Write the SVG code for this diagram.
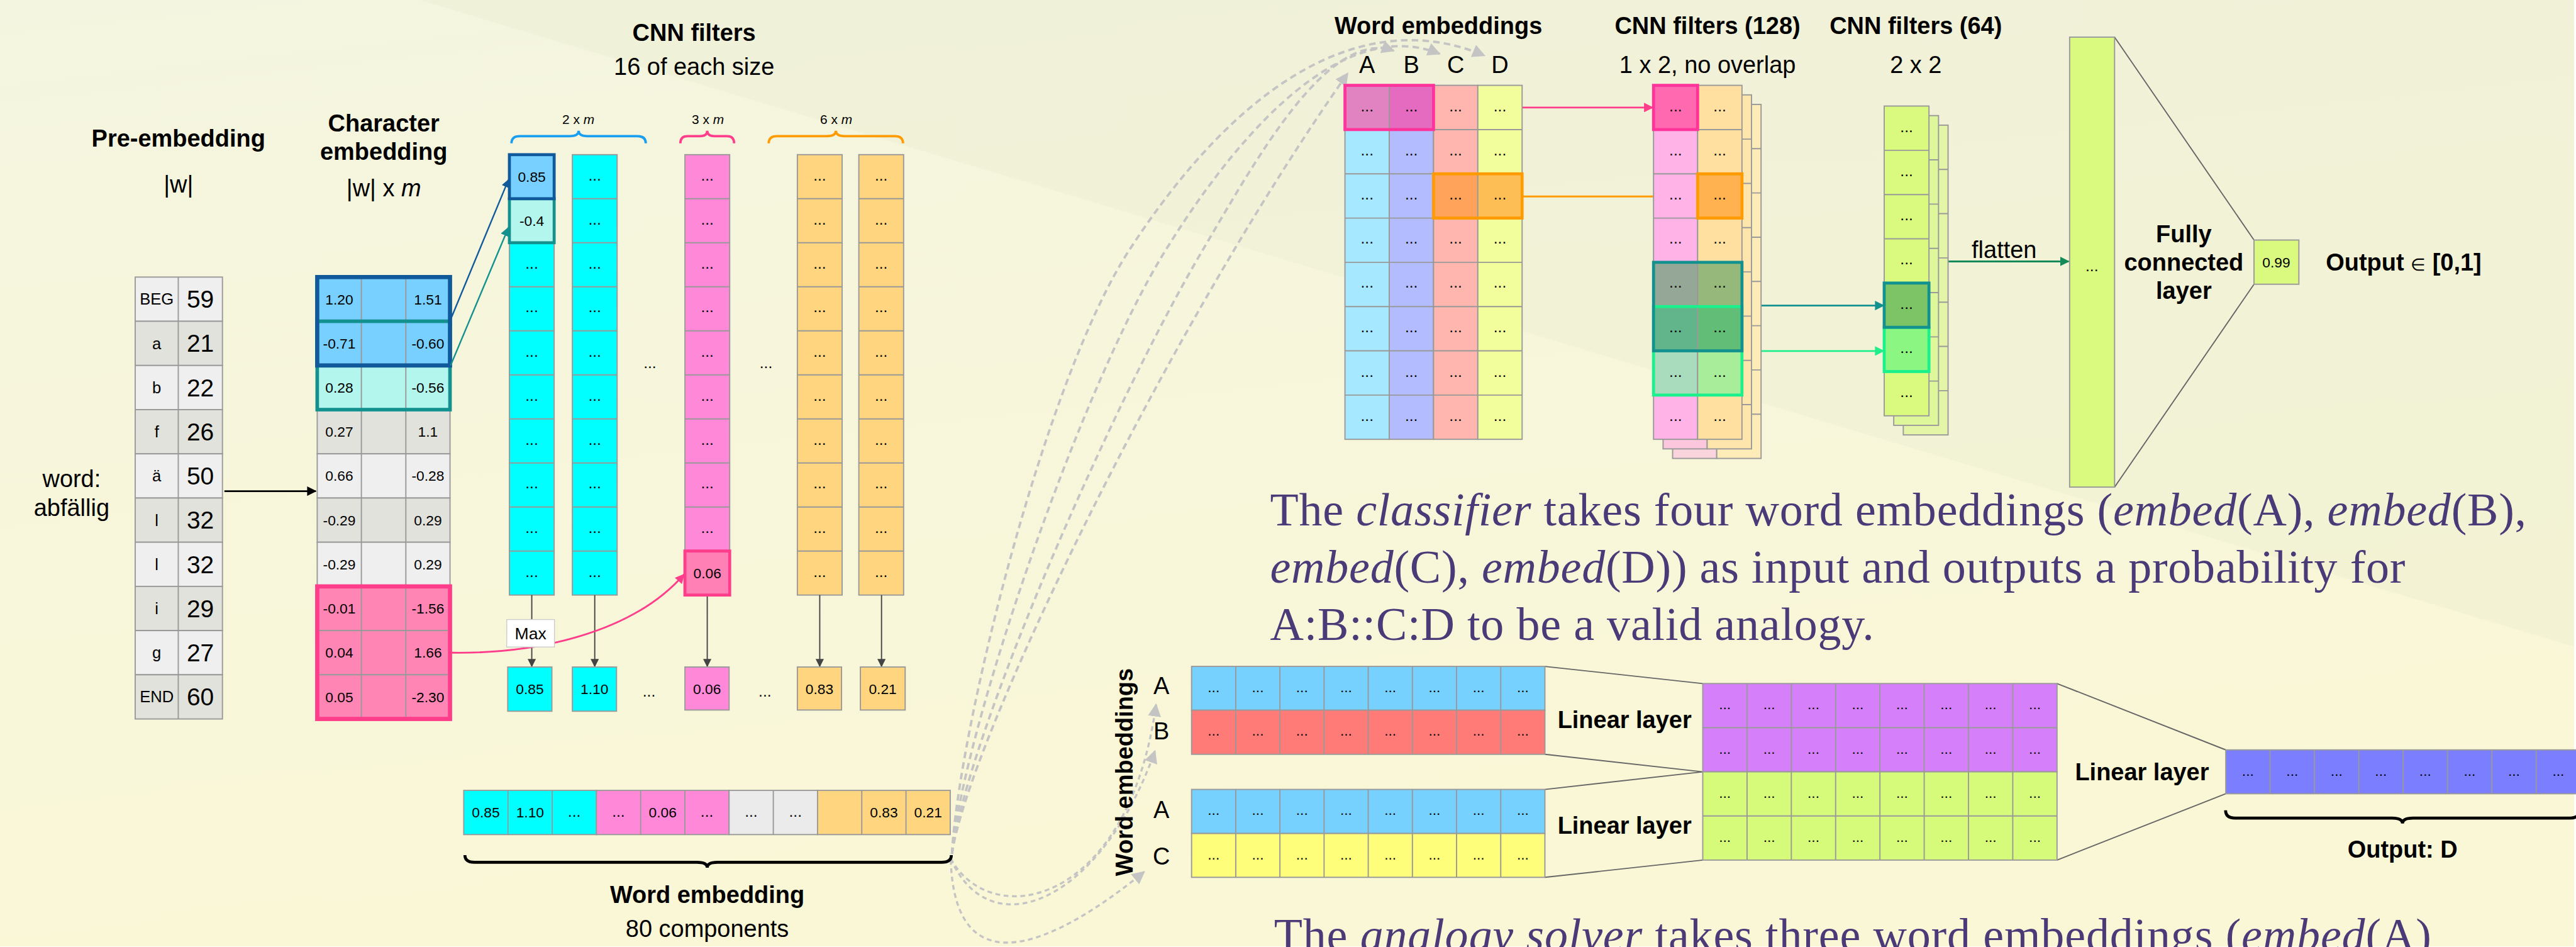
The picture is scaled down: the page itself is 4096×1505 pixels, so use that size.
<svg xmlns="http://www.w3.org/2000/svg" width="4096" height="1505" viewBox="0 0 4096 1505">
<defs>
<style>
text{font-family:"Liberation Sans",Arial,Helvetica,sans-serif;fill:#000}
.b{font-weight:bold}
.m{text-anchor:middle}
.h{font-size:40px}
.v{font-size:24px;text-anchor:middle}
.d{font-size:26px;text-anchor:middle}
.g{stroke:#999;stroke-width:2}
.ln{fill:none;stroke:#999;stroke-width:2}
.tr{fill:none;stroke:#666;stroke-width:2}
.serif{font-family:"Liberation Serif","Times New Roman",serif;font-size:78px;fill:#4a3b78}
.it{font-style:italic}
.dash{fill:none;stroke:#c4c4c4;stroke-width:4;stroke-dasharray:11 7}
.dash2{fill:none;stroke:#c4c4c4;stroke-width:3.5;stroke-dasharray:8 6}
</style>
<linearGradient id="bg" x1="0" y1="0" x2="0.3" y2="1">
<stop offset="0" stop-color="#f4f5e0"/><stop offset="1" stop-color="#faf7d6"/>
</linearGradient>
<marker id="aBlack" viewBox="0 0 10 10" refX="9" refY="5" markerWidth="16" markerHeight="16" markerUnits="userSpaceOnUse" orient="auto"><path d="M0,0L10,5L0,10z" fill="#000"/></marker>
<marker id="aGray" viewBox="0 0 10 10" refX="9" refY="5" markerWidth="14" markerHeight="14" markerUnits="userSpaceOnUse" orient="auto"><path d="M0,0L10,5L0,10z" fill="#444"/></marker>
<marker id="aBlue" viewBox="0 0 10 10" refX="9" refY="5" markerWidth="14" markerHeight="14" markerUnits="userSpaceOnUse" orient="auto"><path d="M0,0L10,5L0,10z" fill="#10599a"/></marker>
<marker id="aTeal" viewBox="0 0 10 10" refX="9" refY="5" markerWidth="16" markerHeight="16" markerUnits="userSpaceOnUse" orient="auto"><path d="M0,0L10,5L0,10z" fill="#12918f"/></marker>
<marker id="aPink" viewBox="0 0 10 10" refX="9" refY="5" markerWidth="16" markerHeight="16" markerUnits="userSpaceOnUse" orient="auto"><path d="M0,0L10,5L0,10z" fill="#ff3d8b"/></marker>
<marker id="aOrange" viewBox="0 0 10 10" refX="9" refY="5" markerWidth="16" markerHeight="16" markerUnits="userSpaceOnUse" orient="auto"><path d="M0,0L10,5L0,10z" fill="#ff9a00"/></marker>
<marker id="aGreen" viewBox="0 0 10 10" refX="9" refY="5" markerWidth="16" markerHeight="16" markerUnits="userSpaceOnUse" orient="auto"><path d="M0,0L10,5L0,10z" fill="#1fee8a"/></marker>
<marker id="aDGreen" viewBox="0 0 10 10" refX="9" refY="5" markerWidth="16" markerHeight="16" markerUnits="userSpaceOnUse" orient="auto"><path d="M0,0L10,5L0,10z" fill="#148a5a"/></marker>
<marker id="aDash" viewBox="0 0 10 10" refX="9" refY="5" markerWidth="22" markerHeight="22" markerUnits="userSpaceOnUse" orient="auto"><path d="M0,0L10,5L0,10z" fill="#c4c4c4"/></marker>
</defs>
<g transform="scale(0.949)">
<rect x="0" y="0" width="4313" height="1585" fill="url(#bg)"/>
<polygon points="703,0 4313,0 4313,1083" fill="#e9ebcf" opacity="0.35"/>

<g id="word-input">
<text class="h m" x="120" y="816">word:</text>
<text class="h m" x="120" y="864">abfällig</text>
</g>

<g id="pre-embedding">
<text class="b h m" x="299" y="246">Pre-embedding</text>
<text class="h m" x="299" y="322">|w|</text>
<rect x="226.5" y="464" width="146.2" height="74" fill="#efefef" class="g"/>
<rect x="226.5" y="538" width="146.2" height="74" fill="#e2e2dc" class="g"/>
<rect x="226.5" y="612" width="146.2" height="74" fill="#efefef" class="g"/>
<rect x="226.5" y="686" width="146.2" height="74" fill="#e2e2dc" class="g"/>
<rect x="226.5" y="760" width="146.2" height="74" fill="#efefef" class="g"/>
<rect x="226.5" y="834" width="146.2" height="74" fill="#e2e2dc" class="g"/>
<rect x="226.5" y="908" width="146.2" height="74" fill="#efefef" class="g"/>
<rect x="226.5" y="982" width="146.2" height="74" fill="#e2e2dc" class="g"/>
<rect x="226.5" y="1056" width="146.2" height="74" fill="#efefef" class="g"/>
<rect x="226.5" y="1130" width="146.2" height="74" fill="#e2e2dc" class="g"/>
<path class="ln" d="M298.7,464V1204"/>
<text class="m" font-size="27"><tspan x="262.6" y="510.5">BEG</tspan><tspan x="262.6" y="584.5">a</tspan><tspan x="262.6" y="658.5">b</tspan><tspan x="262.6" y="732.5">f</tspan><tspan x="262.6" y="806.5">ä</tspan><tspan x="262.6" y="880.5">l</tspan><tspan x="262.6" y="954.5">l</tspan><tspan x="262.6" y="1028.5">i</tspan><tspan x="262.6" y="1102.5">g</tspan><tspan x="262.6" y="1176.5">END</tspan></text>
<text class="m" font-size="41"><tspan x="335.7" y="515.5">59</tspan><tspan x="335.7" y="589.5">21</tspan><tspan x="335.7" y="663.5">22</tspan><tspan x="335.7" y="737.5">26</tspan><tspan x="335.7" y="811.5">50</tspan><tspan x="335.7" y="885.5">32</tspan><tspan x="335.7" y="959.5">32</tspan><tspan x="335.7" y="1033.5">29</tspan><tspan x="335.7" y="1107.5">27</tspan><tspan x="335.7" y="1181.5">60</tspan></text>
</g>

<g id="char-embedding">
<text class="b h m" x="643" y="220">Character</text>
<text class="b h m" x="643" y="268">embedding</text>
<text class="h m" x="643" y="329">|w| x <tspan class="it">m</tspan></text>
<rect x="531.5" y="464" width="222.5" height="74" fill="#77d0ff" class="g"/>
<rect x="531.5" y="538" width="222.5" height="74" fill="#77d0ff" class="g"/>
<rect x="531.5" y="612" width="222.5" height="74" fill="#b3f6ee" class="g"/>
<rect x="531.5" y="686" width="222.5" height="74" fill="#e2e2dc" class="g"/>
<rect x="531.5" y="760" width="222.5" height="74" fill="#efefef" class="g"/>
<rect x="531.5" y="834" width="222.5" height="74" fill="#e2e2dc" class="g"/>
<rect x="531.5" y="908" width="222.5" height="74" fill="#efefef" class="g"/>
<rect x="531.5" y="982" width="222.5" height="74" fill="#ff85b4" class="g"/>
<rect x="531.5" y="1056" width="222.5" height="74" fill="#ff85b4" class="g"/>
<rect x="531.5" y="1130" width="222.5" height="74" fill="#ff85b4" class="g"/>
<path class="ln" d="M605.5,464V1204M680,464V1204"/>
<rect x="531.5" y="538" width="222.5" height="148" fill="none" stroke="#12918f" stroke-width="6"/>
<rect x="531.5" y="464" width="222.5" height="148" fill="none" stroke="#10599a" stroke-width="7"/>
<rect x="531.5" y="982" width="222.5" height="222" fill="none" stroke="#ff3d8b" stroke-width="7"/>
<text class="v"><tspan x="568.5" y="509.5">1.20</tspan><tspan x="568.5" y="583.5">-0.71</tspan><tspan x="568.5" y="657.5">0.28</tspan><tspan x="568.5" y="731.5">0.27</tspan><tspan x="568.5" y="805.5">0.66</tspan><tspan x="568.5" y="879.5">-0.29</tspan><tspan x="568.5" y="953.5">-0.29</tspan><tspan x="568.5" y="1027.5">-0.01</tspan><tspan x="568.5" y="1101.5">0.04</tspan><tspan x="568.5" y="1175.5">0.05</tspan></text>
<text class="v"><tspan x="717" y="509.5">1.51</tspan><tspan x="717" y="583.5">-0.60</tspan><tspan x="717" y="657.5">-0.56</tspan><tspan x="717" y="731.5">1.1</tspan><tspan x="717" y="805.5">-0.28</tspan><tspan x="717" y="879.5">0.29</tspan><tspan x="717" y="953.5">0.29</tspan><tspan x="717" y="1027.5">-1.56</tspan><tspan x="717" y="1101.5">1.66</tspan><tspan x="717" y="1175.5">-2.30</tspan></text>
</g>

<g id="cnn-filters">
<text class="b h m" x="1163" y="69">CNN filters</text>
<text class="h m" x="1163" y="125">16 of each size</text>
<text class="m" font-size="22" x="969" y="208">2 x <tspan class="it">m</tspan></text>
<text class="m" font-size="22" x="1186" y="208">3 x <tspan class="it">m</tspan></text>
<text class="m" font-size="22" x="1401" y="208">6 x <tspan class="it">m</tspan></text>
<path d="M857,240Q857,228 871,228L955,228Q969.5,228 969.5,219Q969.5,228 984,228L1068,228Q1082,228 1082,240" fill="none" stroke="#1a9ff0" stroke-width="4"/>
<path d="M1140,240Q1140,228 1152,228L1173,228Q1185,228 1185,219Q1185,228 1197,228L1218,228Q1230,228 1230,240" fill="none" stroke="#ff3d8b" stroke-width="4"/>
<path d="M1288,240Q1288,228 1302,228L1386,228Q1400.5,228 1400.5,219Q1400.5,228 1415,228L1499,228Q1513,228 1513,240" fill="none" stroke="#ff9a00" stroke-width="4"/>

<rect x="853.5" y="259" width="75" height="737.5" fill="#00ffff" class="g"/>
<path class="ln" d="M853.5,332.75h75m-75,73.75h75m-75,73.75h75m-75,73.75h75m-75,73.75h75m-75,73.75h75m-75,73.75h75m-75,73.75h75m-75,73.75h75"/>
<rect x="853.5" y="332.75" width="75" height="73.75" fill="#b3f6ee" stroke="#12918f" stroke-width="5"/>
<rect x="853.5" y="259" width="75" height="73.75" fill="#77d0ff" stroke="#10599a" stroke-width="5"/>

<rect x="959" y="259" width="75" height="737.5" fill="#00ffff" class="g"/>
<path class="ln" d="M959,332.75h75m-75,73.75h75m-75,73.75h75m-75,73.75h75m-75,73.75h75m-75,73.75h75m-75,73.75h75m-75,73.75h75m-75,73.75h75"/>

<rect x="1147.6" y="259" width="75" height="737.5" fill="#ff88d8" class="g"/>
<path class="ln" d="M1147.6,332.75h75m-75,73.75h75m-75,73.75h75m-75,73.75h75m-75,73.75h75m-75,73.75h75m-75,73.75h75m-75,73.75h75m-75,73.75h75"/>
<rect x="1147.6" y="922.75" width="75" height="73.75" fill="#ff80b4" stroke="#ff3d8b" stroke-width="5"/>

<rect x="1336" y="259" width="75" height="737.5" fill="#ffd67f" class="g"/>
<path class="ln" d="M1336,332.75h75m-75,73.75h75m-75,73.75h75m-75,73.75h75m-75,73.75h75m-75,73.75h75m-75,73.75h75m-75,73.75h75m-75,73.75h75"/>
<rect x="1439" y="259" width="75" height="737.5" fill="#ffd67f" class="g"/>
<path class="ln" d="M1439,332.75h75m-75,73.75h75m-75,73.75h75m-75,73.75h75m-75,73.75h75m-75,73.75h75m-75,73.75h75m-75,73.75h75m-75,73.75h75"/>

<text class="v"><tspan x="891" y="304.4">0.85</tspan><tspan x="891" y="378">-0.4</tspan><tspan x="1185.1" y="968">0.06</tspan></text>
<text class="d"><tspan x="891" y="449.5">...</tspan><tspan x="891" y="523">...</tspan><tspan x="891" y="597">...</tspan><tspan x="891" y="671">...</tspan><tspan x="891" y="744.5">...</tspan><tspan x="891" y="818">...</tspan><tspan x="891" y="892">...</tspan><tspan x="891" y="966">...</tspan></text>
<text class="d"><tspan x="996.5" y="302">...</tspan><tspan x="996.5" y="376">...</tspan><tspan x="996.5" y="449.5">...</tspan><tspan x="996.5" y="523">...</tspan><tspan x="996.5" y="597">...</tspan><tspan x="996.5" y="671">...</tspan><tspan x="996.5" y="744.5">...</tspan><tspan x="996.5" y="818">...</tspan><tspan x="996.5" y="892">...</tspan><tspan x="996.5" y="966">...</tspan></text>
<text class="d"><tspan x="1185.1" y="302">...</tspan><tspan x="1185.1" y="376">...</tspan><tspan x="1185.1" y="449.5">...</tspan><tspan x="1185.1" y="523">...</tspan><tspan x="1185.1" y="597">...</tspan><tspan x="1185.1" y="671">...</tspan><tspan x="1185.1" y="744.5">...</tspan><tspan x="1185.1" y="818">...</tspan><tspan x="1185.1" y="892">...</tspan></text>
<text class="d"><tspan x="1373.5" y="302">...</tspan><tspan x="1373.5" y="376">...</tspan><tspan x="1373.5" y="449.5">...</tspan><tspan x="1373.5" y="523">...</tspan><tspan x="1373.5" y="597">...</tspan><tspan x="1373.5" y="671">...</tspan><tspan x="1373.5" y="744.5">...</tspan><tspan x="1373.5" y="818">...</tspan><tspan x="1373.5" y="892">...</tspan><tspan x="1373.5" y="966">...</tspan></text>
<text class="d"><tspan x="1476.5" y="302">...</tspan><tspan x="1476.5" y="376">...</tspan><tspan x="1476.5" y="449.5">...</tspan><tspan x="1476.5" y="523">...</tspan><tspan x="1476.5" y="597">...</tspan><tspan x="1476.5" y="671">...</tspan><tspan x="1476.5" y="744.5">...</tspan><tspan x="1476.5" y="818">...</tspan><tspan x="1476.5" y="892">...</tspan><tspan x="1476.5" y="966">...</tspan></text>
<text class="d"><tspan x="1089" y="616">...</tspan><tspan x="1283.5" y="616">...</tspan></text>
</g>

<g id="connectors">
<path d="M376,822.5H529" fill="none" stroke="#000" stroke-width="3" marker-end="url(#aBlack)"/>
<path d="M755,535L852,301" fill="none" stroke="#10599a" stroke-width="2.5" marker-end="url(#aBlue)"/>
<path d="M755,612L852,381" fill="none" stroke="#12918f" stroke-width="2.5" marker-end="url(#aTeal)"/>
<path d="M891,996.5V1116" fill="none" stroke="#444" stroke-width="2" marker-end="url(#aGray)"/>
<path d="M996.5,996.5V1116" fill="none" stroke="#444" stroke-width="2" marker-end="url(#aGray)"/>
<path d="M1185,999V1116" fill="none" stroke="#444" stroke-width="2" marker-end="url(#aGray)"/>
<path d="M1373.5,996.5V1116" fill="none" stroke="#444" stroke-width="2" marker-end="url(#aGray)"/>
<path d="M1477,996.5V1116" fill="none" stroke="#444" stroke-width="2" marker-end="url(#aGray)"/>
<path d="M757,1093C900,1095 1060,1060 1146,962" fill="none" stroke="#ff3d8b" stroke-width="3" marker-end="url(#aPink)"/>

<path class="dash" d="M1595,1430C1620,1250 1950,560 2258,123" marker-end="url(#aDash)"/>
<path class="dash" d="M1595,1430C1620,1230 1867,669 2015,419C2103.5,269 2225,47 2335,85" marker-end="url(#aDash)"/>
<path class="dash" d="M1595,1430C1612,1230 1810,649 1953,419C2095,190 2262,30 2412,90" marker-end="url(#aDash)"/>
<path class="dash" d="M1595,1430C1605,1230 1749,639 1892,419C2080,130 2290,10 2487,93" marker-end="url(#aDash)"/>
<path class="dash2" d="M1593,1438C1660,1560 1890,1520 1937,1180" marker-end="url(#aDash)"/>
<path class="dash2" d="M1593,1438C1660,1590 1847,1508 1935,1258" marker-end="url(#aDash)"/>
<path class="dash2" d="M1593,1440C1600,1660 1770,1580 1917,1460" marker-end="url(#aDash)"/>

<path d="M2402,180H2769" fill="none" stroke="#ff3d8b" stroke-width="3" marker-end="url(#aPink)"/>
<path d="M2550.3,329H2843" fill="none" stroke="#ff9a00" stroke-width="3" marker-end="url(#aOrange)"/>
<path d="M2918.7,511.7H3156" fill="none" stroke="#12918f" stroke-width="3" marker-end="url(#aTeal)"/>
<path d="M2918.7,587.8H3156" fill="none" stroke="#1fee8a" stroke-width="3" marker-end="url(#aGreen)"/>
<path d="M3232,437.8H3466" fill="none" stroke="#148a5a" stroke-width="3" marker-end="url(#aDGreen)"/>

<path class="tr" d="M3543,62.2L3776.6,402M3543,815.7L3776.6,476"/>
<path class="tr" d="M2588.5,1116L2853,1144.7M2588.5,1263.2L2853,1292.5M2588.5,1322L2853,1292.5M2588.5,1469.2L2853,1440.3"/>
<path class="tr" d="M3446.6,1144.7L3729.3,1255.8M3446.6,1440.3L3729.3,1329.2"/>
</g>

<g id="max-label">
<rect x="849" y="1037.5" width="80" height="46" fill="#fff" stroke="#ccc" stroke-width="1.5"/>
<text class="m" font-size="28" x="889" y="1071">Max</text>
</g>

<g id="pooled-outputs">
<rect x="850.7" y="1117" width="74" height="74" fill="#00ffff" class="g"/>
<rect x="959" y="1117" width="74" height="74" fill="#00ffff" class="g"/>
<rect x="1147.6" y="1117" width="74" height="72" fill="#ff88d8" class="g"/>
<rect x="1336" y="1117" width="74" height="72" fill="#ffd67f" class="g"/>
<rect x="1441.6" y="1117" width="75" height="72" fill="#ffd67f" class="g"/>
<text class="v"><tspan x="887.7" y="1162.5">0.85</tspan><tspan x="996" y="1162.5">1.10</tspan><tspan x="1184.6" y="1162.5">0.06</tspan><tspan x="1373" y="1162.5">0.83</tspan><tspan x="1479" y="1162.5">0.21</tspan></text>
<text class="d"><tspan x="1087.5" y="1167">...</tspan><tspan x="1281.7" y="1167">...</tspan></text>
</g>

<g id="word-embedding">
<rect x="777" y="1323.6" width="222.3" height="74" fill="#00ffff" class="g"/>
<rect x="999.3" y="1323.6" width="222.3" height="74" fill="#ff88d8" class="g"/>
<rect x="1221.6" y="1323.6" width="148.2" height="74" fill="#ebebeb" class="g"/>
<rect x="1369.8" y="1323.6" width="222.3" height="74" fill="#ffd67f" class="g"/>
<path class="ln" d="M851.1,1323.6v74M925.2,1323.6v74M1073.4,1323.6v74M1147.5,1323.6v74M1295.7,1323.6v74M1443.9,1323.6v74M1518,1323.6v74"/>
<text class="v"><tspan x="814" y="1369">0.85</tspan><tspan x="888.1" y="1369">1.10</tspan><tspan x="1110.4" y="1369">0.06</tspan><tspan x="1481" y="1369">0.83</tspan><tspan x="1555" y="1369">0.21</tspan></text>
<text class="d"><tspan x="962.2" y="1368">...</tspan><tspan x="1036.3" y="1368">...</tspan><tspan x="1184.5" y="1368">...</tspan><tspan x="1258.6" y="1368">...</tspan><tspan x="1332.7" y="1368">...</tspan></text>
<path d="M779,1432Q779,1444 795,1444L1168,1444Q1185,1444 1185,1453Q1185,1444 1202,1444L1578,1444Q1594,1444 1594,1432" fill="none" stroke="#000" stroke-width="5"/>
<text class="b h m" x="1185" y="1512">Word embedding</text>
<text class="h m" x="1185" y="1569">80 components</text>
</g>

<g id="classifier-word-embeddings">
<text class="b h m" x="2410" y="57">Word embeddings</text>
<text class="h m" y="122.5"><tspan x="2290.6">A</tspan><tspan x="2364.8">B</tspan><tspan x="2439">C</tspan><tspan x="2513.2">D</tspan></text>
<rect x="2253.5" y="142.9" width="74.2" height="592.8" fill="#a6e8ff" class="g"/>
<rect x="2327.7" y="142.9" width="74.2" height="592.8" fill="#b3bcff" class="g"/>
<rect x="2401.9" y="142.9" width="74.2" height="592.8" fill="#ffb6ae" class="g"/>
<rect x="2476.1" y="142.9" width="74.2" height="592.8" fill="#f2fd9c" class="g"/>
<path class="ln" d="M2253.5,217h296.8m-296.8,74.1h296.8m-296.8,74.1h296.8m-296.8,74.1h296.8m-296.8,74.1h296.8m-296.8,74.1h296.8m-296.8,74.1h296.8"/>
<rect x="2253.5" y="142.9" width="74.2" height="74.1" fill="#e083c0" class="g"/>
<rect x="2327.7" y="142.9" width="74.2" height="74.1" fill="#e46bbf" class="g"/>
<rect x="2253.5" y="142.9" width="148.4" height="74.1" fill="none" stroke="#ff3399" stroke-width="5"/>
<rect x="2401.9" y="291.1" width="74.2" height="74.1" fill="#ffa25a" class="g"/>
<rect x="2476.1" y="291.1" width="74.2" height="74.1" fill="#fdbf55" class="g"/>
<rect x="2401.9" y="291.1" width="148.4" height="74.1" fill="none" stroke="#ff9a00" stroke-width="5"/>
<text class="d"><tspan x="2290.6" y="186">...</tspan><tspan x="2290.6" y="260">...</tspan><tspan x="2290.6" y="334">...</tspan><tspan x="2290.6" y="408">...</tspan><tspan x="2290.6" y="482">...</tspan><tspan x="2290.6" y="556">...</tspan><tspan x="2290.6" y="631">...</tspan><tspan x="2290.6" y="705">...</tspan></text>
<text class="d"><tspan x="2364.8" y="186">...</tspan><tspan x="2364.8" y="260">...</tspan><tspan x="2364.8" y="334">...</tspan><tspan x="2364.8" y="408">...</tspan><tspan x="2364.8" y="482">...</tspan><tspan x="2364.8" y="556">...</tspan><tspan x="2364.8" y="631">...</tspan><tspan x="2364.8" y="705">...</tspan></text>
<text class="d"><tspan x="2439" y="186">...</tspan><tspan x="2439" y="260">...</tspan><tspan x="2439" y="334">...</tspan><tspan x="2439" y="408">...</tspan><tspan x="2439" y="482">...</tspan><tspan x="2439" y="556">...</tspan><tspan x="2439" y="631">...</tspan><tspan x="2439" y="705">...</tspan></text>
<text class="d"><tspan x="2513.2" y="186">...</tspan><tspan x="2513.2" y="260">...</tspan><tspan x="2513.2" y="334">...</tspan><tspan x="2513.2" y="408">...</tspan><tspan x="2513.2" y="482">...</tspan><tspan x="2513.2" y="556">...</tspan><tspan x="2513.2" y="631">...</tspan><tspan x="2513.2" y="705">...</tspan></text>
</g>

<g id="cnn-filters-128">
<text class="b h m" x="2861" y="57">CNN filters (128)</text>
<text class="h m" x="2861" y="122.5">1 x 2, no overlap</text>
<rect x="2802.5" y="174.9" width="73.9" height="592.8" fill="#fad4dc" class="g"/>
<rect x="2876.4" y="174.9" width="74.3" height="592.8" fill="#fdebb8" class="g"/>
<path class="ln" d="M2802.5,249h148.2m-148.2,74.1h148.2m-148.2,74.1h148.2m-148.2,74.1h148.2m-148.2,74.1h148.2m-148.2,74.1h148.2m-148.2,74.1h148.2"/>
<rect x="2786.5" y="158.9" width="73.9" height="592.8" fill="#fcc6dc" class="g"/>
<rect x="2860.4" y="158.9" width="74.3" height="592.8" fill="#fee5ab" class="g"/>
<path class="ln" d="M2786.5,233h148.2m-148.2,74.1h148.2m-148.2,74.1h148.2m-148.2,74.1h148.2m-148.2,74.1h148.2m-148.2,74.1h148.2m-148.2,74.1h148.2"/>
<rect x="2770.5" y="142.9" width="73.9" height="592.8" fill="#ffb3e6" class="g"/>
<rect x="2844.4" y="142.9" width="74.3" height="592.8" fill="#ffe0a0" class="g"/>
<path class="ln" d="M2770.5,217h148.2m-148.2,74.1h148.2m-148.2,74.1h148.2m-148.2,74.1h148.2m-148.2,74.1h148.2m-148.2,74.1h148.2m-148.2,74.1h148.2"/>
<rect x="2770.5" y="142.9" width="73.9" height="74.1" fill="#ff69b0" stroke="#ff3399" stroke-width="5"/>
<rect x="2844.4" y="291.1" width="74.3" height="74.1" fill="#ffb24f" stroke="#ff9a00" stroke-width="5"/>
<rect x="2770.5" y="439.3" width="73.9" height="74.1" fill="#95a898" class="g"/>
<rect x="2844.4" y="439.3" width="74.3" height="74.1" fill="#96b87a" class="g"/>
<rect x="2770.5" y="513.4" width="73.9" height="74.1" fill="#62b58a" class="g"/>
<rect x="2844.4" y="513.4" width="74.3" height="74.1" fill="#62be76" class="g"/>
<rect x="2770.5" y="587.5" width="73.9" height="74.1" fill="#a8dcbd" class="g"/>
<rect x="2844.4" y="587.5" width="74.3" height="74.1" fill="#a8ee9a" class="g"/>
<rect x="2770.5" y="513.4" width="148.2" height="148.2" fill="none" stroke="#1af08c" stroke-width="5"/>
<rect x="2770.5" y="439.3" width="148.2" height="148.2" fill="none" stroke="#12918f" stroke-width="5"/>
<text class="d"><tspan x="2807.5" y="186">...</tspan><tspan x="2807.5" y="260">...</tspan><tspan x="2807.5" y="334">...</tspan><tspan x="2807.5" y="408">...</tspan><tspan x="2807.5" y="482">...</tspan><tspan x="2807.5" y="556">...</tspan><tspan x="2807.5" y="631">...</tspan><tspan x="2807.5" y="705">...</tspan></text>
<text class="d"><tspan x="2881.6" y="186">...</tspan><tspan x="2881.6" y="260">...</tspan><tspan x="2881.6" y="334">...</tspan><tspan x="2881.6" y="408">...</tspan><tspan x="2881.6" y="482">...</tspan><tspan x="2881.6" y="556">...</tspan><tspan x="2881.6" y="631">...</tspan><tspan x="2881.6" y="705">...</tspan></text>
</g>

<g id="cnn-filters-64">
<text class="b h m" x="3210" y="57">CNN filters (64)</text>
<text class="h m" x="3210" y="122.5">2 x 2</text>
<rect x="3189" y="209.6" width="75" height="518.7" fill="#e4f5a8" class="g"/>
<path class="ln" d="M3189,283.7h75m-75,74.1h75m-75,74.1h75m-75,74.1h75m-75,74.1h75m-75,74.1h75"/>
<rect x="3173" y="193.6" width="75" height="518.7" fill="#def79a" class="g"/>
<path class="ln" d="M3173,267.7h75m-75,74.1h75m-75,74.1h75m-75,74.1h75m-75,74.1h75m-75,74.1h75"/>
<rect x="3157" y="177.6" width="75" height="518.7" fill="#d9fa7e" class="g"/>
<path class="ln" d="M3157,251.7h75m-75,74.1h75m-75,74.1h75m-75,74.1h75m-75,74.1h75m-75,74.1h75"/>
<rect x="3157" y="548.1" width="75" height="74.1" fill="#8cf682" stroke="#1af08c" stroke-width="5"/>
<rect x="3157" y="474" width="75" height="74.1" fill="#7cc466" stroke="#12918f" stroke-width="5"/>
<text class="d"><tspan x="3194.5" y="221">...</tspan><tspan x="3194.5" y="295">...</tspan><tspan x="3194.5" y="369">...</tspan><tspan x="3194.5" y="443">...</tspan><tspan x="3194.5" y="517">...</tspan><tspan x="3194.5" y="591">...</tspan><tspan x="3194.5" y="665">...</tspan></text>
<text class="h m" x="3358" y="432">flatten</text>
</g>

<g id="fully-connected">
<rect x="3467.7" y="62.2" width="75.3" height="753.5" fill="#d9fa7e" class="g"/>
<text class="d" x="3505" y="454">...</text>
<text class="b h m" x="3659" y="405.6">Fully</text>
<text class="b h m" x="3659" y="453">connected</text>
<text class="b h m" x="3659" y="500">layer</text>
</g>

<g id="classifier-output">
<rect x="3776.6" y="402" width="75.2" height="74" fill="#d9fa7e" class="g"/>
<text class="v" x="3814" y="447.5">0.99</text>
<text class="b h" x="3897" y="453">Output <tspan font-weight="normal" font-size="28">∈</tspan> [0,1]</text>
</g>

<g id="classifier-description">
<text class="serif" x="2128" y="880" textLength="2105" lengthAdjust="spacing">The <tspan class="it">classifier</tspan> takes four word embeddings (<tspan class="it">embed</tspan>(A), <tspan class="it">embed</tspan>(B),</text>
<text class="serif" x="2128" y="976" textLength="1902" lengthAdjust="spacing"><tspan class="it">embed</tspan>(C), <tspan class="it">embed</tspan>(D)) as input and outputs a probability for</text>
<text class="serif" x="2128" y="1072" textLength="1012" lengthAdjust="spacing">A:B::C:D to be a valid analogy.</text>
</g>

<g id="solver-inputs">
<text class="b h m" transform="translate(1898,1293) rotate(-90)" x="0" y="0">Word embeddings</text>
<text class="h m"><tspan x="1946" y="1162">A</tspan><tspan x="1946" y="1238">B</tspan><tspan x="1946" y="1370">A</tspan><tspan x="1946" y="1448">C</tspan></text>
<rect x="1996.5" y="1116" width="592" height="73.3" fill="#76d1ff" class="g"/>
<rect x="1996.5" y="1189.3" width="592" height="73.9" fill="#ff7b77" class="g"/>
<path class="ln" d="M2070.5,1116v147.2M2144.5,1116v147.2M2218.5,1116v147.2M2292.5,1116v147.2M2366.5,1116v147.2M2440.5,1116v147.2M2514.5,1116v147.2"/>
<rect x="1996.5" y="1322" width="592" height="73.8" fill="#76d1ff" class="g"/>
<rect x="1996.5" y="1395.8" width="592" height="73.4" fill="#fefe7a" class="g"/>
<path class="ln" d="M2070.5,1322v147.2M2144.5,1322v147.2M2218.5,1322v147.2M2292.5,1322v147.2M2366.5,1322v147.2M2440.5,1322v147.2M2514.5,1322v147.2"/>
<text class="v"><tspan x="2033.5" y="1159">...</tspan><tspan x="2107.5" y="1159">...</tspan><tspan x="2181.5" y="1159">...</tspan><tspan x="2255.5" y="1159">...</tspan><tspan x="2329.5" y="1159">...</tspan><tspan x="2403.5" y="1159">...</tspan><tspan x="2477.5" y="1159">...</tspan><tspan x="2551.5" y="1159">...</tspan></text>
<text class="v"><tspan x="2033.5" y="1232">...</tspan><tspan x="2107.5" y="1232">...</tspan><tspan x="2181.5" y="1232">...</tspan><tspan x="2255.5" y="1232">...</tspan><tspan x="2329.5" y="1232">...</tspan><tspan x="2403.5" y="1232">...</tspan><tspan x="2477.5" y="1232">...</tspan><tspan x="2551.5" y="1232">...</tspan></text>
<text class="v"><tspan x="2033.5" y="1365">...</tspan><tspan x="2107.5" y="1365">...</tspan><tspan x="2181.5" y="1365">...</tspan><tspan x="2255.5" y="1365">...</tspan><tspan x="2329.5" y="1365">...</tspan><tspan x="2403.5" y="1365">...</tspan><tspan x="2477.5" y="1365">...</tspan><tspan x="2551.5" y="1365">...</tspan></text>
<text class="v"><tspan x="2033.5" y="1439">...</tspan><tspan x="2107.5" y="1439">...</tspan><tspan x="2181.5" y="1439">...</tspan><tspan x="2255.5" y="1439">...</tspan><tspan x="2329.5" y="1439">...</tspan><tspan x="2403.5" y="1439">...</tspan><tspan x="2477.5" y="1439">...</tspan><tspan x="2551.5" y="1439">...</tspan></text>
<text class="b h m" x="2722" y="1219">Linear layer</text>
<text class="b h m" x="2722" y="1396">Linear layer</text>
</g>

<g id="solver-hidden">
<rect x="2853" y="1144.7" width="593.6" height="147.8" fill="#d580fa" class="g"/>
<rect x="2853" y="1292.5" width="593.6" height="147.8" fill="#d6fa7a" class="g"/>
<path class="ln" d="M2853,1218.6h593.6M2853,1366.4h593.6M2927.2,1144.7v295.6M3001.4,1144.7v295.6M3075.6,1144.7v295.6M3149.8,1144.7v295.6M3224,1144.7v295.6M3298.2,1144.7v295.6M3372.4,1144.7v295.6"/>
<text class="v"><tspan x="2890.1" y="1188">...</tspan><tspan x="2964.3" y="1188">...</tspan><tspan x="3038.5" y="1188">...</tspan><tspan x="3112.7" y="1188">...</tspan><tspan x="3186.9" y="1188">...</tspan><tspan x="3261.1" y="1188">...</tspan><tspan x="3335.3" y="1188">...</tspan><tspan x="3409.5" y="1188">...</tspan></text>
<text class="v"><tspan x="2890.1" y="1262">...</tspan><tspan x="2964.3" y="1262">...</tspan><tspan x="3038.5" y="1262">...</tspan><tspan x="3112.7" y="1262">...</tspan><tspan x="3186.9" y="1262">...</tspan><tspan x="3261.1" y="1262">...</tspan><tspan x="3335.3" y="1262">...</tspan><tspan x="3409.5" y="1262">...</tspan></text>
<text class="v"><tspan x="2890.1" y="1336">...</tspan><tspan x="2964.3" y="1336">...</tspan><tspan x="3038.5" y="1336">...</tspan><tspan x="3112.7" y="1336">...</tspan><tspan x="3186.9" y="1336">...</tspan><tspan x="3261.1" y="1336">...</tspan><tspan x="3335.3" y="1336">...</tspan><tspan x="3409.5" y="1336">...</tspan></text>
<text class="v"><tspan x="2890.1" y="1410">...</tspan><tspan x="2964.3" y="1410">...</tspan><tspan x="3038.5" y="1410">...</tspan><tspan x="3112.7" y="1410">...</tspan><tspan x="3186.9" y="1410">...</tspan><tspan x="3261.1" y="1410">...</tspan><tspan x="3335.3" y="1410">...</tspan><tspan x="3409.5" y="1410">...</tspan></text>
<text class="b h m" x="3589" y="1307">Linear layer</text>
</g>

<g id="solver-output">
<rect x="3729.3" y="1255.8" width="594.4" height="73.4" fill="#7b7fff" class="g"/>
<path class="ln" d="M3803.6,1255.8v73.4M3877.9,1255.8v73.4M3952.2,1255.8v73.4M4026.5,1255.8v73.4M4100.8,1255.8v73.4M4175.1,1255.8v73.4M4249.4,1255.8v73.4"/>
<text class="v"><tspan x="3766.4" y="1299">...</tspan><tspan x="3840.7" y="1299">...</tspan><tspan x="3915" y="1299">...</tspan><tspan x="3989.3" y="1299">...</tspan><tspan x="4063.6" y="1299">...</tspan><tspan x="4137.9" y="1299">...</tspan><tspan x="4212.2" y="1299">...</tspan><tspan x="4286.5" y="1299">...</tspan></text>
<path d="M3729,1357Q3729,1370 3745,1370L4008,1370Q4025.5,1370 4025.5,1379Q4025.5,1370 4043,1370L4306,1370Q4322,1370 4322,1357" fill="none" stroke="#000" stroke-width="5"/>
<text class="b h m" x="4025.5" y="1436">Output: D</text>
</g>

<g id="solver-description">
<text class="serif" x="2134.6" y="1592" textLength="1939" lengthAdjust="spacing">The <tspan class="it">analogy solver</tspan> takes three word embeddings (<tspan class="it">embed</tspan>(A)</text>
</g>
</g>
</svg>
